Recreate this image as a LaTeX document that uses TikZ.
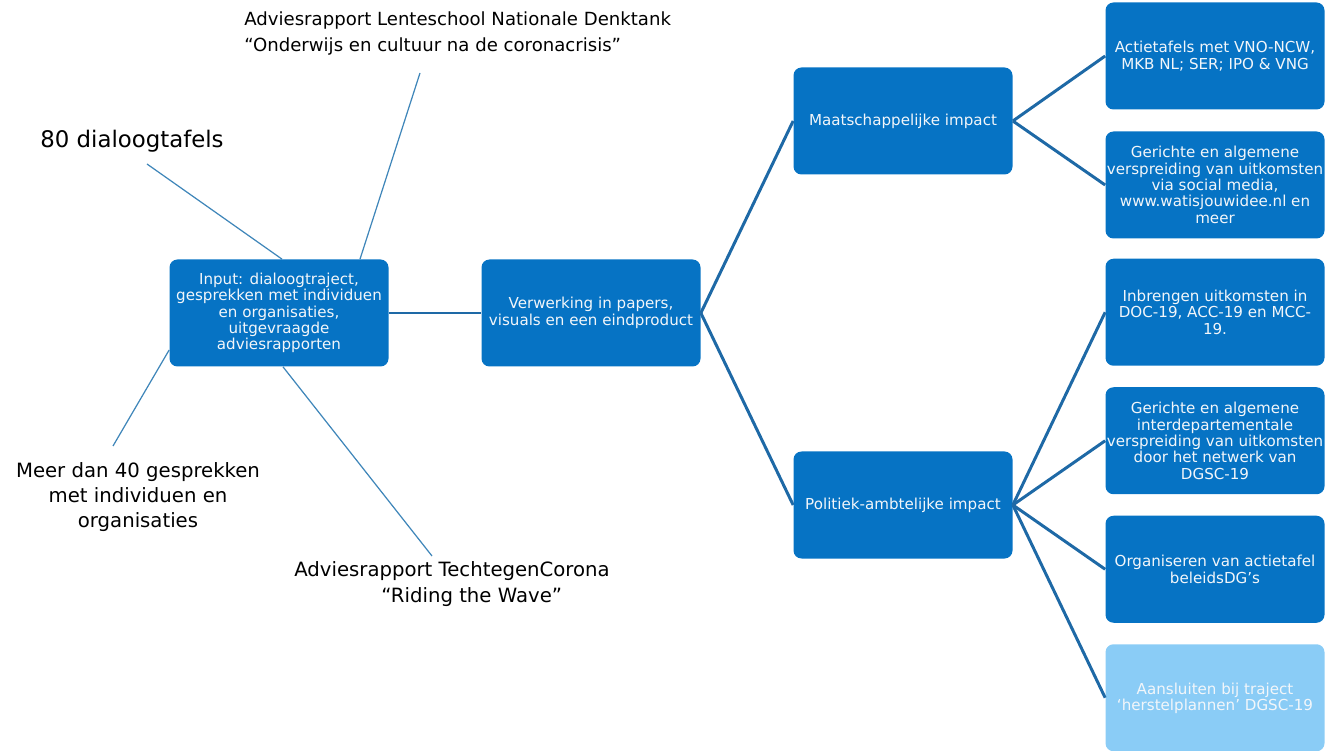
\documentclass[tikz,border=0pt]{standalone}
\usepackage{fontspec}
\setmainfont{DejaVu Sans}
\usepackage{tikz}
\usepackage{xcolor}
\usetikzlibrary{shapes,arrows}
\usetikzlibrary{positioning}

\definecolor{boxblue}{HTML}{0673C4}
\definecolor{paleblue}{HTML}{8ACCF6}
\definecolor{treeblue}{HTML}{1E69A6}
\definecolor{spokeblue}{HTML}{3F86B9}
\definecolor{boxtext}{HTML}{F2F6FA}

\tikzstyle{box} = [rectangle, fill=boxblue, rounded corners=0.16cm, minimum width=4.38cm, minimum height=2.14cm, inner xsep=0pt, align=center, text=boxtext, font=\fontsize{8.6}{9.3}\selectfont]
\tikzstyle{lightbox} = [box, fill=paleblue]
\tikzstyle{label} = [align=center, inner sep=0pt, font=\fontsize{11.2}{14.2}\selectfont]
\tikzstyle{branch} = [draw, treeblue, line width=1.7pt]
\tikzstyle{spoke} = [draw, spokeblue, line width=0.7pt]

\begin{document}
\begin{tikzpicture}[node distance = 6.24cm, auto]
    \useasboundingbox (0,0) rectangle (26.5,-15.02);
    % Place nodes
     \node [box] (inp) at (5.58,-6.26) {Input: dialoogtraject,\\gesprekken met individuen\\en organisaties,\\uitgevraagde\\adviesrapporten};
     \node [box, right of=inp] (verw) {Verwerking in papers,\\visuals en een eindproduct};
     \node [box, right of=verw, yshift=3.84cm] (maat) {Maatschappelijke impact};
     \node [box, right of=verw, yshift=-3.84cm] (pol) {Politiek-ambtelijke impact};

     \node [box, right of=maat, yshift=1.3cm] (acttaf) {Actietafels met VNO-NCW,\\MKB NL; SER; IPO \& VNG};
     \node [box, right of=maat, yshift=-1.28cm] (social) {Gerichte en algemene\\verspreiding van uitkomsten\\via social media,\\www.watisjouwidee.nl en\\meer};
     \node [box, right of=pol, yshift=3.855cm] (doc) {Inbrengen uitkomsten in\\DOC-19, ACC-19 en MCC-\\19.};
     \node [box, right of=pol, yshift=1.285cm] (netw) {Gerichte en algemene\\interdepartementale\\verspreiding van uitkomsten\\door het netwerk van\\DGSC-19};
     \node [box, right of=pol, yshift=-1.285cm] (beleid) {Organiseren van actietafel\\beleidsDG’s};
     \node [lightbox, right of=pol, yshift=-3.855cm] (herstel) {\\[-2pt]Aansluiten bij traject\\‘herstelplannen’ DGSC-19};

     % input sources
     \node [label, anchor=west, font=\fontsize{13}{15}\selectfont] (dialoog) at (0.8,-2.82) {80 dialoogtafels};
     \node [label, anchor=west, align=left, font=\fontsize{10.3}{15.3}\selectfont] (lente) at (4.88,-0.67) {Adviesrapport Lenteschool Nationale Denktank\\“Onderwijs en cultuur na de coronacrisis”};
     \node [label] (gespr) at (2.76,-9.94) {Meer dan 40 gesprekken\\met individuen en\\organisaties};
     \node [label, font=\fontsize{11.2}{14.8}\selectfont] (tech) at (9.04,-11.68) {Adviesrapport TechtegenCorona\\\hspace*{2em}“Riding the Wave”};

     \coordinate (dialoogend) at (2.94,-3.28);
     \coordinate (lenteend) at (8.4,-1.46);
     \coordinate (gesprend) at (2.26,-8.92);
     \coordinate (techend) at (8.64,-11.12);

     \path [spoke] (dialoogend) -- ([xshift=0.06cm]inp.north);
     \path [spoke] (lenteend) -- ([xshift=1.62cm]inp.north);
     \path [spoke] (gesprend) -- ([yshift=-0.74cm]inp.west);
     \path [spoke] ([xshift=0.08cm]inp.south) -- (techend);

     \path [branch] (inp) -- (verw);
     \path [branch] (verw.east) -- (maat.west);
     \path [branch] (verw.east) -- (pol.west);
     \path [branch] (maat.east) -- (acttaf.west);
     \path [branch] (maat.east) -- (social.west);
     \path [branch] (pol.east) -- (doc.west);
     \path [branch] (pol.east) -- (netw.west);
     \path [branch] (pol.east) -- (beleid.west);
     \path [branch] (pol.east) -- (herstel.west);

\end{tikzpicture}
\end{document}
